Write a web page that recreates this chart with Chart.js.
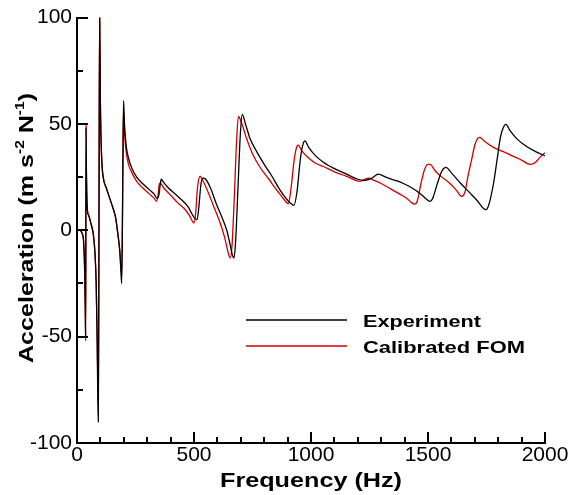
<!DOCTYPE html>
<html>
<head>
<meta charset="utf-8">
<script src="https://cdn.jsdelivr.net/npm/chart.js@4/dist/chart.umd.min.js"></script>
<style>
  html, body { margin: 0; padding: 0; background: #fff; }
  #wrap { width: 570px; height: 495px; }
</style>
</head>
<body>
<div id="wrap"><canvas id="myChart" width="570" height="495"></canvas></div>
<script>
// values
const freqExp = [0, 12, 22, 28, 33, 36, 37, 38.5, 40, 44, 50, 60, 70, 77, 82, 86, 89, 91, 93, 95, 97, 100, 105, 112, 125, 140, 155, 165, 175, 183, 188, 191, 194, 197, 199, 203, 210, 220, 235, 255, 280, 310, 330, 342, 350, 355, 360, 370, 390, 420, 450, 475, 495, 505, 513, 520, 530, 540, 550, 570, 597, 620, 640, 655, 665, 671, 678, 688, 698, 706, 720, 740, 768, 800, 830, 867, 890, 910, 927, 940, 955, 966, 974, 990, 1020, 1053, 1100, 1150, 1200, 1230, 1260, 1288, 1320, 1360, 1395, 1430, 1470, 1495, 1509, 1520, 1540, 1560, 1577, 1600, 1640, 1680, 1710, 1735, 1748, 1760, 1780, 1795, 1810, 1825, 1833, 1850, 1880, 1920, 1960, 2000];
const accExp = [0, 0, -1.5, -5, -20, -42, -50, 48, 30, 10, 7, 3, -2, -11, -25, -50, -80, -90, -40, 50, 100, 60, 35, 25, 20, 15, 10, 6, -2, -10, -20, -25, 0, 40, 61, 50, 40, 34, 29, 25, 22, 19, 17, 15, 16.5, 21, 24, 22.5, 20, 17, 14, 11, 7, 5.5, 5, 10, 22, 24.5, 24, 20, 12, 6, 0, -7, -12, -13, -5, 20, 45, 54.5, 50, 43, 37, 31, 26, 19, 15.5, 13, 11.7, 18, 34, 40.5, 42, 39, 35, 32, 29, 26.5, 24, 23.5, 24.5, 26.4, 25, 23.5, 22, 20, 17, 14.5, 13.6, 15, 22, 28, 29.6, 27, 22, 17.5, 14, 10.5, 9.7, 12, 22, 33, 44, 49, 49.8, 47, 43, 39.5, 37, 35];

const freqFom = [0, 12, 22, 28, 33, 36, 37, 38.5, 40, 44, 50, 60, 70, 77, 82, 86, 89, 91, 93, 95, 97, 100, 105, 112, 125, 140, 155, 165, 175, 183, 188, 191, 194, 197, 199, 203, 210, 220, 235, 255, 280, 310, 330, 340, 347, 352, 357, 370, 400, 430, 460, 480, 492, 500, 507, 515, 526, 535, 560, 585, 610, 630, 645, 654, 662, 672, 682, 690, 705, 725, 750, 780, 820, 860, 885, 903, 915, 928, 940, 946, 960, 990, 1020, 1053, 1100, 1150, 1190, 1209, 1230, 1245, 1270, 1300, 1340, 1380, 1410, 1430, 1444, 1455, 1470, 1485, 1500, 1509, 1530, 1560, 1594, 1620, 1644, 1658, 1670, 1686, 1700, 1715, 1722, 1740, 1780, 1822, 1860, 1900, 1936, 1960, 1980, 2000];
const accFom = [0, 0, -1.5, -5, -20, -44, -52, 50, 30, 10, 7, 3, -2, -11, -25, -50, -72, -81, -30, 60, 100, 60, 35, 25, 20, 15, 10, 6, -2, -10, -18, -21, 5, 45, 56, 46, 37, 31, 27, 23, 20, 17, 15, 13.6, 17, 22, 22, 20, 16.5, 13, 10, 7, 4.5, 3.4, 8, 20, 25.4, 24, 18, 11, 4, -3, -10, -13, -8, 15, 42, 53.5, 50, 43, 36, 30, 24, 18, 14.5, 12.5, 20, 33, 39.5, 40, 37.5, 34, 31.5, 30, 27.5, 25.5, 23.5, 23, 24, 24.5, 23.5, 22, 19.5, 17, 15, 13, 12.3, 14, 22, 28.5, 31, 31, 28, 25, 22, 19, 16, 18, 25, 33, 40, 43.5, 43.7, 42, 39, 37, 35, 33, 31, 32, 34.5, 36.5];

const xTicks = [0, 500, 1000, 1500, 2000];
const yTicks = [-100, -50, 0, 50, 100];

const FONT = 'Arial, "Liberation Sans", Helvetica, sans-serif';

function toPoints(xs, ys) {
    return xs.map((x, i) => ({ x: x, y: ys[i] }));
}

// draws text pieces stretched along the text direction to a given width
// parts: [text, isSuperscript]
function drawWide(ctx, parts, x, y, width, big, small, align) {
    let total = 0;
    parts.forEach(p => { ctx.font = p[1] ? small : big; total += ctx.measureText(p[0]).width; });
    const k = width / total;
    ctx.save();
    ctx.translate(x, y);
    ctx.scale(k, 1);
    let cx = align === 'center' ? -total / 2 : 0;
    ctx.textAlign = 'left';
    ctx.textBaseline = 'alphabetic';
    parts.forEach(p => {
        ctx.font = p[1] ? small : big;
        ctx.fillText(p[0], cx, p[1] ? -9 : 0);
        cx += ctx.measureText(p[0]).width;
    });
    ctx.restore();
}

// inward ticks, titles and legend
const decorPlugin = {
    id: 'decor',
    afterDraw(chart) {
        const ctx = chart.ctx;
        const xs = chart.scales.x;
        const ys = chart.scales.y;
        const a = chart.chartArea;
        ctx.save();
        ctx.strokeStyle = '#000';
        ctx.lineWidth = 2;
        for (let v = 0; v <= 2000; v += 100) {
            const px = Math.round(xs.getPixelForValue(v));
            const len = v % 500 === 0 ? 11 : 6;
            ctx.beginPath();
            ctx.moveTo(px, a.bottom);
            ctx.lineTo(px, a.bottom - len);
            ctx.stroke();
        }
        for (let v = -100; v <= 100; v += 25) {
            const py = Math.round(ys.getPixelForValue(v));
            const len = v % 50 === 0 ? 11 : 6;
            ctx.beginPath();
            ctx.moveTo(a.left, py);
            ctx.lineTo(a.left + len, py);
            ctx.stroke();
        }

        ctx.fillStyle = '#000';
        // x title
        drawWide(ctx, [['Frequency (Hz)', false]], (a.left + a.right) / 2, 487, 182,
            'bold 21px ' + FONT, 'bold 13px ' + FONT, 'center');

        // y title with superscripts
        ctx.save();
        ctx.translate(33, 228);
        ctx.rotate(-Math.PI / 2);
        drawWide(ctx, [['Acceleration (m s', false], ['-2', true], [' N', false], ['-1', true], [')', false]],
            0, 0, 270, 'bold 21px ' + FONT, 'bold 13px ' + FONT, 'center');
        ctx.restore();

        // legend
        const legendW = [118, 162];
        chart.data.datasets.forEach((ds, i) => {
            const y = 320 + i * 26;
            ctx.strokeStyle = ds.borderColor;
            ctx.lineWidth = 1.3;
            ctx.beginPath();
            ctx.moveTo(246, y);
            ctx.lineTo(347, y);
            ctx.stroke();
            ctx.fillStyle = '#000';
            drawWide(ctx, [[ds.label, false]], 363, y + 7, legendW[i],
                'bold 17px ' + FONT, 'bold 12px ' + FONT, 'left');
        });
        ctx.restore();
    }
};

function makeChart() {
    const ctx = document.getElementById('myChart').getContext('2d');
    return new Chart(ctx, {
        type: 'line',
        data: {
            datasets: [{
                label: 'Experiment',
                data: toPoints(freqExp, accExp),
                borderColor: '#000000',
                borderWidth: 1.3,
                pointRadius: 0,
                cubicInterpolationMode: 'monotone'
            }, {
                label: 'Calibrated FOM',
                data: toPoints(freqFom, accFom),
                borderColor: '#d00000',
                borderWidth: 1.3,
                pointRadius: 0,
                cubicInterpolationMode: 'monotone'
            }]
        },
        options: {
            responsive: false,
            animation: false,
            layout: { padding: { top: 16, right: 25, left: 0, bottom: 0 } },
            plugins: { legend: { display: false }, tooltip: { enabled: false } },
            scales: {
                x: {
                    type: 'linear',
                    min: 0, max: 2000,
                    afterBuildTicks: s => { s.ticks = xTicks.map(v => ({ value: v })); },
                    afterFit: s => { s.height = 52; },
                    grid: { display: false, tickLength: 0 },
                    border: { display: true, color: '#000', width: 2 },
                    ticks: {
                        color: '#000', padding: 0, maxRotation: 0,
                        font: { family: FONT, size: 21 },
                        callback: v => String(v)
                    }
                },
                y: {
                    min: -100, max: 100,
                    afterBuildTicks: s => { s.ticks = yTicks.map(v => ({ value: v })); },
                    afterFit: s => { s.width = 77; },
                    grid: { display: false, tickLength: 0 },
                    border: { display: true, color: '#000', width: 2 },
                    ticks: {
                        color: '#000', padding: 5,
                        font: { family: FONT, size: 21 },
                        callback: v => String(v)
                    }
                }
            }
        },
        plugins: [decorPlugin]
    });
}

makeChart();
</script>
</body>
</html>
